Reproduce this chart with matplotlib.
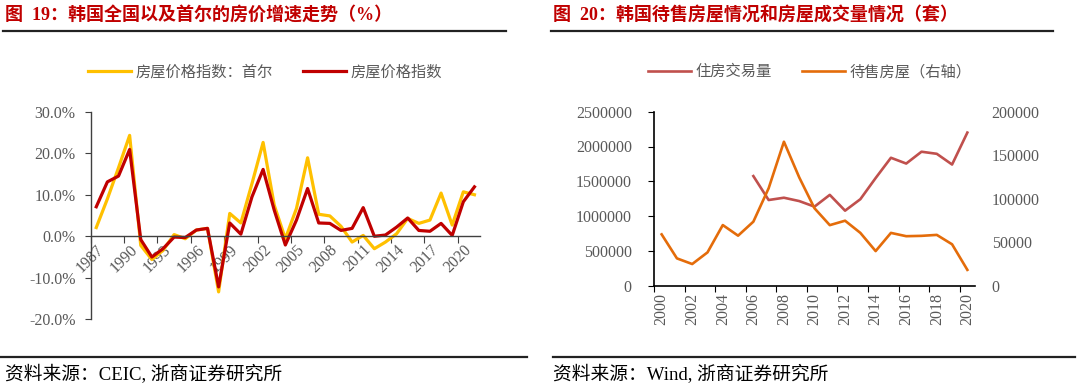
"""Deux graphiques : prix immobiliers en Corée (gauche) et transactions / stock invendu (droite)."""

import numpy as np
import matplotlib

matplotlib.use("Agg")
import matplotlib.pyplot as plt
from matplotlib.ticker import FixedLocator, FuncFormatter

# --- données ---
annees_prix = list(range(1987, 2022))
prix_seoul = [2.1, 9.0, 16.5, 24.3, -2.2, -5.6, -3.4, 0.4, -0.6, 1.5,
              1.9, -13.4, 5.5, 3.2, 12.7, 22.6, 7.5, -0.6, 6.7, 18.9,
              5.3, 4.9, 2.4, -1.4, 0.2, -3.0, -1.4, 0.6, 4.3, 3.1,
              3.9, 10.4, 2.7, 10.7, 10.0]
prix_national = [7.1, 13.1, 14.5, 20.9, -0.8, -5.0, -3.0, -0.2, -0.3, 1.5,
                 1.9, -12.2, 3.2, 0.5, 9.5, 16.1, 6.3, -2.1, 3.9, 11.5,
                 3.2, 3.1, 1.4, 1.9, 6.9, 0.0, 0.3, 2.2, 4.4, 1.4,
                 1.2, 3.1, 0.2, 8.3, 11.9]

annees_logement = list(range(2000, 2021))
transactions = [np.nan] * 6 + [1575000, 1231000, 1264000, 1216000, 1136000,
                               1305000, 1078000, 1243000, 1547000, 1838000,
                               1755000, 1925000, 1895000, 1741000, 2200000]
invendus = [59000, 31400, 24900, 38300, 69700, 57500, 73600, 112000, 165500,
            124500, 89000, 69600, 74700, 60700, 39800, 60700, 56900, 57300,
            58400, 47600, 18200]

GRIS = "#595959"
CJK = ["Liberation Serif", "Noto Sans CJK SC"]
ROUGE_TITRE = "#C00000"

fig = plt.figure(figsize=(10.8, 3.89), dpi=100)

# titres et filets
fig.text(5 / 1080, 1 - 15 / 389, "图  19：韩国全国以及首尔的房价增速走势（%）",
         family=CJK, fontsize=13, fontweight="bold", color=ROUGE_TITRE, va="center")
fig.text(553 / 1080, 1 - 15 / 389, "图  20：韩国待售房屋情况和房屋成交量情况（套）",
         family=CJK, fontsize=13, fontweight="bold", color=ROUGE_TITRE, va="center")
for x0, x1 in [(3, 506), (551, 1053)]:
    fig.add_artist(plt.Line2D([x0 / 1080, x1 / 1080], [1 - 31 / 389] * 2,
                              color="#222222", lw=1.6))
for x0, x1 in [(0, 527), (553, 1075)]:
    fig.add_artist(plt.Line2D([x0 / 1080, x1 / 1080], [1 - 357 / 389] * 2,
                              color="#222222", lw=1.6))
fig.text(5 / 1080, 1 - 375 / 389, "资料来源：CEIC, 浙商证券研究所",
         family=CJK, fontsize=13.5, color="black", va="center")
fig.text(553 / 1080, 1 - 375 / 389, "资料来源：Wind, 浙商证券研究所",
         family=CJK, fontsize=13.5, color="black", va="center")

# --- graphique de gauche ---
ax1 = fig.add_axes([90.7 / 1080, 1 - 319.3 / 389, 389.3 / 1080, 207.6 / 389])
x1 = np.arange(len(annees_prix))
l1, = ax1.plot(x1, prix_seoul, color="#FFC000", lw=2.3, label="房屋价格指数：首尔")
l2, = ax1.plot(x1, prix_national, color="#C00000", lw=2.3, label="房屋价格指数")
ax1.set_xlim(-0.5, len(annees_prix) - 0.5)
ax1.set_ylim(-20, 30)
ax1.set_yticks(range(-20, 31, 10))
ax1.yaxis.set_major_formatter(FuncFormatter(lambda v, p: f"{v:.1f}%"))
for cote in ["top", "right"]:
    ax1.spines[cote].set_visible(False)
ax1.spines["bottom"].set_position(("data", 0))
for cote in ["left", "bottom"]:
    ax1.spines[cote].set_color("#404040")
    ax1.spines[cote].set_linewidth(1.0)
ax1.xaxis.set_major_locator(FixedLocator(np.arange(-0.5, len(annees_prix) - 1, 3)))
ax1.xaxis.set_major_formatter(FuncFormatter(lambda v, p: ""))
ax1.xaxis.set_minor_locator(FixedLocator(x1[::3]))
ax1.xaxis.set_minor_formatter(FuncFormatter(lambda v, p: str(annees_prix[int(round(v))])))
ax1.tick_params(axis="x", which="major", direction="out", length=5, color="#404040")
ax1.tick_params(axis="x", which="minor", length=0, pad=4)
ax1.tick_params(axis="y", direction="out", length=4, pad=7, color="#404040")
for lab in ax1.get_xticklabels(minor=True):
    lab.set_rotation(45)
    lab.set_ha("right")
    lab.set_rotation_mode("anchor")
for lab in ax1.get_xticklabels(minor=True) + ax1.get_yticklabels():
    lab.set_family("Liberation Serif")
    lab.set_fontsize(11.5)
    lab.set_color(GRIS)
fig.legend(handles=[l1, l2], loc="center", bbox_to_anchor=(265 / 1080, 1 - 72 / 389),
           ncol=2, frameon=False, handlelength=2.8, handletextpad=0.3,
           columnspacing=2.0, prop={"family": CJK, "size": 11}, labelcolor=GRIS)

# --- graphique de droite ---
ax2 = fig.add_axes([654 / 1080, 1 - 285.7 / 389, 321 / 1080, 174 / 389])
ax3 = ax2.twinx()
x2 = np.arange(len(annees_logement))
l3, = ax2.plot(x2, transactions, color="#C0504D", lw=1.9, label="住房交易量")
l4, = ax3.plot(x2, invendus, color="#E46C0A", lw=1.9, label="待售房屋（右轴）")
ax2.set_xlim(-0.5, len(annees_logement) - 0.5)
ax2.set_ylim(0, 2500000)
ax3.set_ylim(0, 200000)
ax2.set_yticks(range(0, 2500001, 500000))
ax3.set_yticks(range(0, 200001, 50000))
ax2.yaxis.set_major_formatter(FuncFormatter(lambda v, p: f"{int(v)}"))
ax3.yaxis.set_major_formatter(FuncFormatter(lambda v, p: f"{int(v)}"))
for a in (ax2, ax3):
    for cote in ["top", "right"]:
        a.spines[cote].set_visible(False)
ax3.spines["left"].set_visible(False)
ax3.spines["bottom"].set_visible(False)
for cote in ["left", "bottom"]:
    ax2.spines[cote].set_color("black")
    ax2.spines[cote].set_linewidth(1.2)
ax2.xaxis.set_major_locator(FixedLocator(np.arange(-0.5, len(annees_logement) - 1, 2)))
ax2.xaxis.set_major_formatter(FuncFormatter(lambda v, p: ""))
ax2.xaxis.set_minor_locator(FixedLocator(x2[::2]))
ax2.xaxis.set_minor_formatter(FuncFormatter(lambda v, p: str(annees_logement[int(round(v))])))
ax2.tick_params(axis="x", which="major", direction="out", length=4, color="black")
ax2.tick_params(axis="x", which="minor", length=0, pad=5, labelrotation=90)
ax2.tick_params(axis="y", direction="out", length=4, pad=12, color="black")
ax3.tick_params(axis="y", length=0, pad=12)
for lab in (ax2.get_xticklabels(minor=True) + ax2.get_yticklabels()
            + ax3.get_yticklabels()):
    lab.set_family("Liberation Serif")
    lab.set_fontsize(11.5)
    lab.set_color(GRIS)
fig.legend(handles=[l3, l4], loc="center", bbox_to_anchor=(810 / 1080, 1 - 72 / 389),
           ncol=2, frameon=False, handlelength=2.8, handletextpad=0.3,
           columnspacing=2.0, prop={"family": CJK, "size": 11}, labelcolor=GRIS)

fig.savefig("out.png", dpi=100)
